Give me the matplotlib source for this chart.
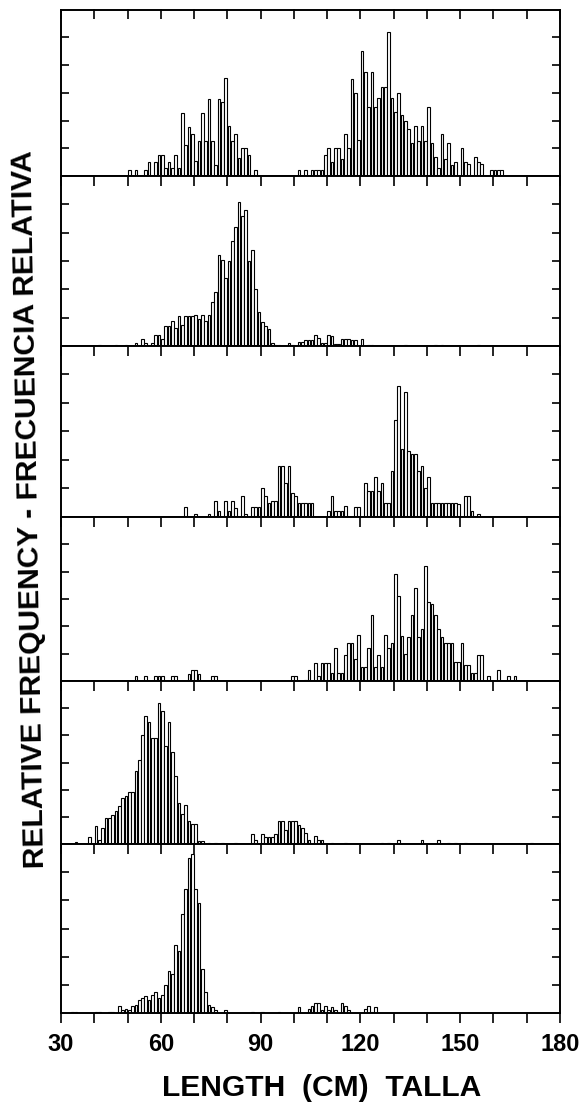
import numpy as np
import matplotlib
matplotlib.use("Agg")
import matplotlib.pyplot as plt

plt.rcParams['font.family'] = ['Liberation Sans', 'DejaVu Sans']

# relative frequency per 1 cm length class (tick units), panels top -> bottom
p1_start = 50
p1_freq = [.23, 0, .23, 0, 0, .2, .5, 0, .5, .76,
           .76, .3, .5, .3, .76, .3, 2.28, 1.1, 1.77, 1.5,
           .55, 1.25, 2.28, 1.25, 2.76, 1.25, .4, 2.76, 2.65, 3.53,
           1.8, 1.25, 1.5, .65, 1.0, 1.0, .75, 0, .23,
           0, 0, 0, 0, 0, 0, 0, 0, 0, 0, 0, 0,
           .23, 0, .23, 0, .23, .23, .23, .23, .75, 1.0,
           .5, 1.0, 1.0, .6, 1.5, 1.0, 3.5, 3.0, 1.3, 4.5,
           3.75, 2.5, 3.75, 2.5, 2.8, 3.2, 3.2, 5.2, 2.8, 2.3,
           3.0, 2.2, 2.0, 1.7, 1.2, 1.8, 1.25, 1.8, 1.25, 2.5,
           1.2, .7, .3, 1.5, .6, 1.2, .4, .5, 0, 1.0,
           .5, .45, 0, .7, .5, .45, 0, 0, .23, .23,
           .23, .23]

p2_start = 41
p2_freq = [.05, 0, 0, 0, 0, .02, 0, 0, .02, 0,
           0, .12, 0, .25, .1, 0, .1, .4, .4, .25,
           .7, .7, .9, .65, 1.05, .75, 1.05, 1.05, 1.05, 1.1,
           .95, 1.1, .9, 1.1, 1.55, 1.9, 3.2, 3.05, 2.4, 3.0,
           3.7, 4.2, 5.1, 4.6, 4.8, 3.0, 3.4, 2.0, 1.2, .85,
           .7, .6, .1, .05, .05, 0, 0, .12, .05, 0,
           .15, .15, .2, .2, .2, .4, .3, .1, .1, .4,
           .35, .08, .08, .25, .25, .25, .2, .2, 0, .25,
           0, .05, .03, 0, 0, 0, 0, 0, 0, 0,
           0, 0, .03, 0, 0, 0, 0, 0, 0, 0,
           0, .03, 0, .03, 0, 0, 0, 0, 0, 0,
           0, 0, 0, 0, .03]

p3_start = 67
p3_freq = [.35, 0, 0, .12, 0, 0, 0, .12, 0, .55,
           .2, 0, .55, .2, .55, .3, 0, .75, .1, 0,
           .35, .35, .35, 1.0, .75, .5, .55, .55, 1.8, 1.8,
           1.2, 1.8, .85, .75, .5, .5, .5, .5, .5, 0,
           0, 0, 0, .2, .75, .2, .2, .2, .4, 0,
           0, .35, .35, 0, 1.2, .9, .9, 1.4, .9, 1.2,
           .5, .5, 1.6, 3.4, 4.6, 2.4, 4.4, 2.3, 2.2, 2.2,
           1.6, 1.8, 1.0, 1.4, .5, .5, .5, .5, .5, .5,
           .5, .5, .45, 0, .75, .75, .2, 0, .12]

p4_start = 52
p4_freq = [.2, 0, 0, .2, 0, 0, .2, .2, .2, 0,
           0, .2, .2, 0, 0, 0, .25, .4, .4, .25,
           0, 0, 0, .2, .2, 0, 0, 0, 0, 0,
           0, 0, 0, 0, 0, 0, 0, 0, 0, 0,
           0, 0, 0, 0, 0, 0, 0, .2, .2, 0,
           0, .05, .4, 0, .65, .2, .65, .65, .65, .3,
           1.2, .3, .3, .95, 1.4, 1.4, .8, 1.7, .5, .5,
           1.2, 2.4, .5, .95, .5, 1.7, 1.2, 1.4, 3.9, 3.1,
           1.65, 1.0, 1.6, 2.4, 3.4, 1.6, 1.9, 4.2, 2.9, 2.8,
           2.4, 1.9, 1.6, 1.4, 1.4, 1.4, .7, .7, 1.4, .6,
           .6, .3, .3, .95, .95, 0, .2, 0, 0, .4,
           0, 0, .2, 0, .2]

p5_start = 34
p5_freq = [.06, 0, 0, 0, .25, 0,
           .65, .15, .6, .95, .95, 1.05, 1.2, 1.4, 1.7, 1.75,
           1.9, 1.9, 2.7, 3.1, 4.0, 4.7, 4.5, 3.9, 3.9, 5.2,
           4.9, 3.6, 4.5, 3.4, 2.5, 1.5, 1.1, 1.45, .85, .75,
           .75, .12, .12, 0, .04, 0, .04, 0, .04, 0,
           0, 0, .04, 0, 0, 0, 0, .35, .15, 0,
           .35, .25, .25, .25, .35, .85, .85, .5, .85, .85,
           .85, .7, .6, .4, .15, 0, .3, .15, .15, 0,
           0, .05, 0, 0, 0, .04, 0, 0, 0, 0,
           0, 0, 0, 0, 0, 0, .04, 0, .04, 0,
           0, .15, 0, 0, 0, 0, 0, 0, .15, 0,
           0, 0, 0, .15, 0, 0, .04, 0, .05, 0,
           0, .04, 0, 0, 0, 0, 0, 0, 0, 0,
           0, 0, 0, 0, 0, 0, 0, 0, 0, 0,
           0, .04]

p6_start = 33
p6_freq = [.04, .04, 0, 0, 0, 0, 0, .04, .03, 0,
           0, .04, .04, 0, .25, .1, .15, .1, .25, .3,
           .45, .55, .6, .45, .65, .75, .55, .65, 1.0, 1.5,
           1.4, 2.4, 2.2, 3.5, 4.4, 5.5, 5.65, 4.4, 3.9, 1.55,
           .75, .28, .2, .1, 0, 0, .1, 0, 0, 0,
           0, 0, 0, 0, .05, 0, 0, .05, 0, 0,
           0, 0, .04, 0, 0, 0, 0, 0, .2, 0,
           0, .15, .25, .35, .35, .1, .25, .1, .2, .1,
           0, .35, .25, .1, 0, 0, 0, 0, .15, .25,
           .05, .2]

starts = [p1_start, p2_start, p3_start, p4_start, p5_start, p6_start]
freqs = [p1_freq, p2_freq, p3_freq, p4_freq, p5_freq, p6_freq]
x_ticks = list(range(30, 181, 10))
x_labels = [30, 60, 90, 120, 150, 180]

W, H = 586, 1103
fig = plt.figure(figsize=(W / 100, H / 100), dpi=100)

# panel boxes in pixels
edges = [9.5, 176, 346, 517, 681, 844, 1013]
left, right = 61, 560

for i in range(6):
    ax = fig.add_axes([left / W, 1 - edges[i + 1] / H,
                       (right - left) / W, (edges[i + 1] - edges[i]) / H])
    f = np.array(freqs[i], dtype=float)
    x = starts[i] + np.arange(len(f))
    keep = f > 0
    ax.bar(x[keep] + 0.5, f[keep], width=0.8, color='white',
           edgecolor='black', linewidth=0.8)
    ax.set_xlim(30, 180)
    ax.set_ylim(0, 6)
    for s in ax.spines.values():
        s.set_linewidth(1.4)
    ax.set_yticks([1, 2, 3, 4, 5])
    ax.tick_params(axis='y', direction='in', left=True, right=True,
                   length=6, width=1.2, labelleft=False)
    ax.set_xticks(x_ticks)
    top = ax.secondary_xaxis('top')
    top.set_xticks(x_ticks)
    top.tick_params(direction='in', length=7.5, width=1.2, labeltop=False)
    top.spines['top'].set_visible(False)
    if i < 5:
        ax.tick_params(axis='x', bottom=False, labelbottom=False)
    else:
        ax.set_xticks(x_ticks, [str(v) if v in x_labels else '' for v in x_ticks])
        ax.tick_params(axis='x', direction='out', length=7.5, width=1.2, pad=7)
        for t in ax.get_xticklabels():
            t.set_fontsize(17)
            t.set_fontweight('bold')

fig.text(30 / W, 1 - 509 / H, 'RELATIVE FREQUENCY - FRECUENCIA RELATIVA',
         rotation=91, ha='center', va='center', fontsize=21.6, fontweight='bold')
fig.text(322 / W, 1 - 1088 / H, 'LENGTH  (CM)  TALLA',
         ha='center', va='center', fontsize=21.6, fontweight='bold')

fig.savefig('out.png', dpi=100)
